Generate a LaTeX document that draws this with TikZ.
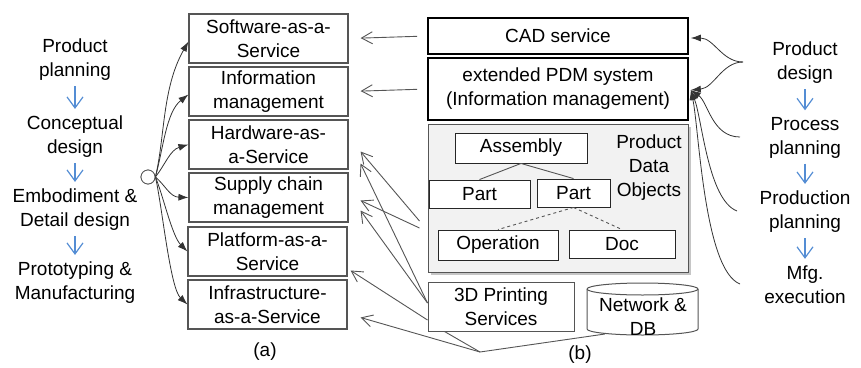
\documentclass[tikz,border=0pt]{standalone}
\usepackage{fontspec}
\setmainfont{Liberation Sans}
\usetikzlibrary{arrows.meta,shadows,calc}
\definecolor{flowblue}{RGB}{84,141,212}
\definecolor{edgegray}{RGB}{85,85,85}
\begin{document}
\begin{tikzpicture}[x=1pt,y=-1pt,
  txt/.style={font=\fontsize{19}{24}\selectfont, align=center, inner sep=0pt},
  abox/.style={txt, draw=edgegray, line width=1.1pt, minimum width=159pt, minimum height=49pt},
  bbox/.style={txt, draw=black, line width=1.6pt, minimum width=260pt},
  obox/.style={txt, draw=black!85, line width=0.9pt, fill=white},
  flowarr/.style={draw=flowblue, line width=1.2pt, -{Straight Barb[length=11pt,width=16pt]}},
  grayarr/.style={draw=edgegray, line width=0.9pt, -{Straight Barb[length=11pt,width=12pt]}},
  curvarr/.style={draw=black!80, line width=0.8pt, -{Latex[length=10pt,width=7pt]}},
  plainln/.style={draw=edgegray, line width=0.9pt}
]
\useasboundingbox (0,0) rectangle (861,367);

% left process column
\node[txt] (pp) at (75,60) {Product\\planning};
\node[txt] (cd) at (75,137) {Conceptual\\design};
\node[txt] (ed) at (75,210) {Embodiment \&\\Detail design};
\node[txt] (pm) at (75,283) {Prototyping \&\\Manufacturing};
\draw[flowarr, shorten <=5pt, shorten >=7pt] (pp) -- (cd);
\draw[flowarr, shorten <=5pt, shorten >=7pt] (cd) -- (ed);
\draw[flowarr, shorten <=5pt, shorten >=7pt] (ed) -- (pm);

% (a) boxes
\node[abox] (sw) at (268.5,38.5) {Software-as-a-\\Service};
\node[abox] (im) at (268.5,91.5) {Information\\management};
\node[abox] (hw) at (268.5,144.5) {Hardware-as-\\a-Service};
\node[abox] (sc) at (268.5,197.5) {Supply chain\\management};
\node[abox] (pf) at (267.5,251.5) {Platform-as-a-\\Service};
\node[abox] (inf) at (267.5,304.5) {Infrastructure-\\as-a-Service};
\node[txt] (la) at (265,352) {(a)};

% hub circle and curves
\node[circle, draw=edgegray, fill=white, minimum size=14pt, inner sep=0pt, line width=0.8pt] (hc) at (148,177) {};
\draw[curvarr] (hc.east) .. controls (165,137) and (162,88) .. ($(sw.west)+(0,3)$);
\draw[curvarr] (hc.east) .. controls (163,150) and (166,112) .. ($(im.west)+(0,3)$);
\draw[curvarr] (hc.east) .. controls (165,165) and (170,150) .. (hw.west);
\draw[curvarr] (hc.east) .. controls (165,185) and (170,197) .. (sc.west);
\draw[curvarr] (hc.east) .. controls (163,195) and (172,236) .. (pf.west);
\draw[curvarr] (hc.east) .. controls (162,205) and (170,288) .. (inf.west);
\node[circle, draw=edgegray, fill=white, minimum size=14pt, inner sep=0pt, line width=0.8pt] at (hc) {};

% (b) boxes
\node[bbox, minimum height=36pt] (cad) at (558,36) {CAD service};
\node[bbox, minimum height=62pt] (pdm) at (558,89) {extended PDM system\\(Information management)};
\node[draw=edgegray, fill=gray!10, line width=1pt, minimum width=260pt, minimum height=148pt, inner sep=0pt,
  drop shadow={shadow xshift=2.5pt, shadow yshift=-2.5pt, opacity=0.45}] (pdo) at (558,198) {};
\node[obox, minimum width=132pt, minimum height=30pt] (asm) at (521,148) {Assembly};
\node[obox, minimum width=101pt, minimum height=28pt] (pa1) at (479.5,194) {Part};
\node[obox, minimum width=73pt, minimum height=28pt] (pa2) at (573.5,193) {Part};
\node[obox, minimum width=120pt, minimum height=30pt] (op) at (498,245) {Operation};
\node[obox, minimum width=106pt, minimum height=28pt] (doc) at (622,244) {Doc};
\node[txt] (pdol) at (649,168) {Product\\Data\\Objects};
\draw[plainln] (asm.south) -- (pa1.north);
\draw[plainln] (asm.south) -- (pa2.north);
\draw[plainln, dashed] (pa2.south) -- (op.north);
\draw[plainln, dashed] (pa2.south) -- (doc.north);

\node[txt, draw=edgegray, line width=1pt, minimum width=146pt, minimum height=49pt] (tdp) at (501,306.5) {3D Printing\\Services};
\draw[edgegray, line width=1pt, fill=white] (587,289) -- (587,329)
  arc[start angle=180, end angle=0, x radius=55.5, y radius=6] -- (698,289)
  arc[start angle=0, end angle=-180, x radius=55.5, y radius=6] -- cycle;
\draw[edgegray, line width=1pt] (587,289) arc[start angle=180, end angle=0, x radius=55.5, y radius=6];
\node[txt] (net) at (643,317) {Network \&\\DB};
\node[txt] (lb) at (580,355) {(b)};

% horizontal arrows
\draw[grayarr, shorten <=10pt, shorten >=12pt] (cad.west) -- (sw.east);
\draw[grayarr, shorten <=10pt, shorten >=12pt] (pdm.west) -- (im.east);

% diagonal arrows
\coordinate (hub) at (480,352);
\coordinate (netb) at (605,334);
\draw[grayarr] ($(pdo.west)+(-8,23)$) -- ($(hw.east)+(12,7)$);
\draw[grayarr] ($(pdo.west)+(-8,30)$) -- ($(sc.east)+(12,3)$);
\draw[grayarr] ($(tdp.west)+(0,-3.5)$) -- ($(hw.east)+(12,19)$);
\draw[grayarr] ($(tdp.west)+(0,-3.5)$) -- ($(sc.east)+(12,13)$);
\draw[grayarr] ($(tdp.west)+(0,13.5)$) -- ($(pf.east)+(3,19)$);
\draw[grayarr] (hub) -- ($(inf.east)+(13,13)$);
\draw[plainln] (hub) -- ($(tdp.south west)+(17,0)$);
\draw[plainln] (hub) -- (netb);

% right process column
\node[txt] (pd) at (805,63) {Product\\design};
\node[txt] (prc) at (805,138) {Process\\planning};
\node[txt] (prd) at (805,212) {Production\\planning};
\node[txt] (mfg) at (805,285) {Mfg.\\execution};
\draw[flowarr, shorten <=5pt, shorten >=7pt] (pd) -- (prc);
\draw[flowarr, shorten <=5pt, shorten >=7pt] (prc) -- (prd);
\draw[flowarr, shorten <=5pt, shorten >=7pt] (prd) -- (mfg);

\coordinate (pdL) at (743,62);
\coordinate (prcL) at (740,137);
\coordinate (prdL) at (737,211);
\coordinate (mfgL) at (740,284);
\draw[curvarr] (pdL) .. controls (722,62) and (714,38) .. ($(cad.east)+(2,2)$);
\draw[curvarr] (pdL) .. controls (722,62) and (714,88) .. ($(pdm.east)+(2,1)$);
\draw[curvarr] (prcL) .. controls (712,137) and (708,102) .. ($(pdm.east)+(2,1)$);
\draw[curvarr] (prdL) .. controls (708,200) and (702,118) .. ($(pdm.east)+(2,1)$);
\draw[curvarr] (mfgL) .. controls (704,270) and (699,128) .. ($(pdm.east)+(2,1)$);
\end{tikzpicture}
\end{document}
